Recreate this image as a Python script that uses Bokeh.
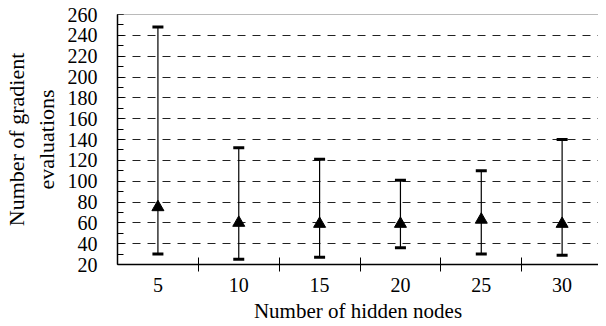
from bokeh.plotting import figure
from bokeh.models import FixedTicker, SingleIntervalTicker, Range1d, Span
from bokeh.embed import file_html
from bokeh.resources import INLINE

hidden_nodes = [5, 10, 15, 20, 25, 30]
mean_evals = [75, 60, 59, 59, 63, 59]
max_evals = [248, 132, 121, 101, 110, 140]
min_evals = [30, 25, 27, 36, 30, 29]
y_ticks_step = 20

idx = list(range(1, len(hidden_nodes) + 1))

FONT = "Liberation Serif"

p = figure(width=598, height=326, output_backend="svg", toolbar_location=None,
           x_range=Range1d(0.5, 6.45), y_range=Range1d(20, 260),
           min_border_left=111, min_border_right=0, min_border_top=14, min_border_bottom=62)
p.outline_line_color = None
p.background_fill_color = "white"
p.border_fill_color = "white"

# top border line
p.add_layout(Span(location=260, dimension="width", line_color="#777777", line_width=1))

# y axis
p.yaxis.ticker = SingleIntervalTicker(interval=y_ticks_step, num_minor_ticks=2)
p.yaxis.major_tick_in = 6
p.yaxis.major_tick_out = 0
p.yaxis.minor_tick_in = 6
p.yaxis.minor_tick_out = 0
p.yaxis.axis_line_color = "black"
p.yaxis.axis_line_width = 1.5
p.yaxis.major_label_text_font = FONT
p.yaxis.major_label_text_font_size = "20px"
p.yaxis.major_label_text_color = "black"
p.yaxis.major_label_standoff = 20
p.yaxis.axis_label = "Number of gradient\nevaluations"
p.yaxis.axis_label_text_font = FONT
p.yaxis.axis_label_text_font_style = "normal"
p.yaxis.axis_label_text_font_size = "22px"
p.yaxis.axis_label_text_color = "black"
p.yaxis.axis_label_standoff = 6

# x axis
p.xaxis.ticker = FixedTicker(ticks=idx, minor_ticks=[i + 0.5 for i in idx])
p.xaxis.major_label_overrides = {i: str(v) for i, v in zip(idx, hidden_nodes)}
p.xaxis.major_tick_in = 0
p.xaxis.major_tick_out = 0
p.xaxis.minor_tick_in = 7
p.xaxis.minor_tick_out = 7
p.xaxis.minor_tick_line_color = "black"
p.xaxis.axis_line_color = "black"
p.xaxis.axis_line_width = 1.5
p.xaxis.major_label_text_font = FONT
p.xaxis.major_label_text_font_size = "20px"
p.xaxis.major_label_text_color = "black"
p.xaxis.major_label_standoff = 6
p.xaxis.axis_label = "Number of hidden nodes"
p.xaxis.axis_label_text_font = FONT
p.xaxis.axis_label_text_font_style = "normal"
p.xaxis.axis_label_text_font_size = "21px"
p.xaxis.axis_label_text_color = "black"
p.xaxis.axis_label_standoff = 4

# grid
p.xgrid.grid_line_color = None
p.ygrid.grid_line_color = "#222222"
p.ygrid.grid_line_dash = "8 7"
p.ygrid.grid_line_width = 1

# error bars
p.segment(x0=idx, y0=min_evals, x1=idx, y1=max_evals, line_color="black", line_width=1.2)
p.scatter(x=idx, y=max_evals, marker="dash", size=11, line_color="black", line_width=3)
p.scatter(x=idx, y=min_evals, marker="dash", size=11, line_color="black", line_width=3)
p.scatter(x=idx, y=mean_evals, marker="triangle", size=12, fill_color="black", line_color="black")

open("out.html", "w").write(file_html(p, INLINE))
